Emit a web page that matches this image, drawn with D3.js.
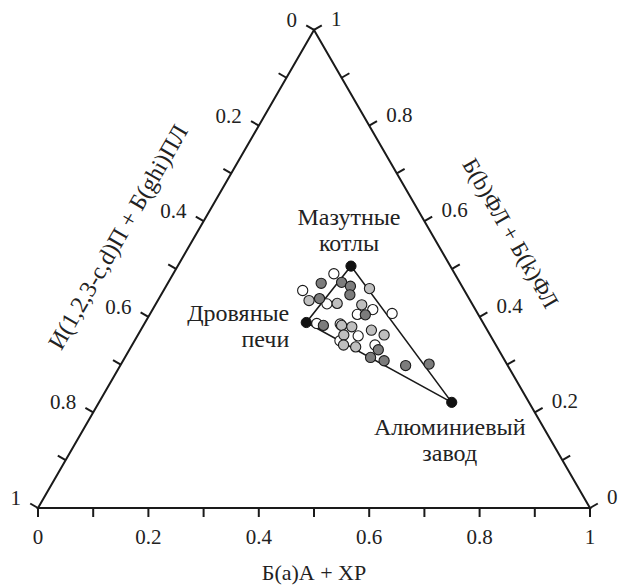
<!DOCTYPE html>
<html>
<head>
<meta charset="utf-8">
<script src="https://cdn.jsdelivr.net/npm/d3@7"></script>
<style>
  body { margin: 0; background: #fff; }
</style>
</head>
<body>
<div class="gv-chart-wrapper"></div>
<script>
// components: bottom = Б(a)А + ХР, right = Б(b)ФЛ + Б(k)ФЛ, left = 1 - bottom - right
const tickValues = [0, 0.1, 0.2, 0.3, 0.4, 0.5, 0.6, 0.7, 0.8, 0.9, 1]
const labelValues = [0, 0.2, 0.4, 0.6, 0.8, 1]
const tickLabels = ['0', '0.2', '0.4', '0.6', '0.8', '1']

const bottomTitle = 'Б(a)А + ХР'
const leftTitle = 'И(1,2,3-c,d)П + Б(ghi)ПЛ'
const rightTitle = 'Б(b)ФЛ + Б(k)ФЛ'

// sources (black)
const sourceNames = [['Мазутные', 'котлы'], ['Дровяные', 'печи'], ['Алюминиевый', 'завод']]
const sourceBottom = [0.314, 0.292, 0.639]
const sourceRight = [0.506, 0.388, 0.221]

// samples, white circles
const whiteBottom = [0.291, 0.252, 0.310, 0.376, 0.399, 0.438, 0.312, 0.355, 0.400, 0.372, 0.440]
const whiteRight = [0.490, 0.455, 0.427, 0.405, 0.415, 0.407, 0.386, 0.385, 0.360, 0.350, 0.341]

// light grey circles
const lightBottom = [0.371, 0.274, 0.328, 0.374, 0.359, 0.379, 0.418, 0.446, 0.373, 0.383, 0.407]
const lightRight = [0.459, 0.434, 0.428, 0.425, 0.382, 0.379, 0.372, 0.362, 0.362, 0.341, 0.337]

// dark grey circles
const darkBottom = [0.278, 0.314, 0.334, 0.342, 0.291, 0.391, 0.326, 0.451, 0.445, 0.473, 0.517, 0.558]
const darkRight = [0.470, 0.472, 0.464, 0.446, 0.438, 0.404, 0.382, 0.331, 0.315, 0.308, 0.298, 0.301]

const width = 619
const height = 585
const side = 552
const h = side * Math.sqrt(3) / 2

const x = d3.scaleLinear().domain([0, 1]).range([38, 38 + side])
const y = d3.scaleLinear().domain([0, Math.sqrt(3) / 2]).range([508, 508 - h])

// ternary -> screen
const px = (c, b) => x(c + b / 2)
const py = (c, b) => y(b * Math.sqrt(3) / 2)

const serif = sel => sel
  .style('font-family', "'Liberation Serif'")
  .style('fill', '#222')

const svg = d3.select('.gv-chart-wrapper')
  .append('svg')
  .attr('width', width)
  .attr('height', height)

const tickLen = 9

// frame
svg.append('path')
  .attr('d', 'M' + px(0, 0) + ',' + py(0, 0) + 'L' + px(1, 0) + ',' + py(1, 0) + 'L' + px(0, 1) + ',' + py(0, 1) + 'Z')
  .style('fill', 'none')
  .style('stroke', '#1a1a1a')
  .style('stroke-width', 2)

// bottom axis ticks (value = bottom component)
svg.append('g').selectAll('line')
  .data(tickValues)
  .enter()
  .append('line')
  .attr('x1', d => px(d, 0)).attr('y1', d => py(d, 0))
  .attr('x2', d => px(d, 0)).attr('y2', d => py(d, 0) + tickLen)
  .style('stroke', '#1a1a1a').style('stroke-width', 2)

// left axis ticks (value = left component, 0 at top, 1 at bottom-left)
svg.append('g').selectAll('line')
  .data(tickValues)
  .enter()
  .append('line')
  .attr('x1', d => px(0, 1 - d)).attr('y1', d => py(0, 1 - d))
  .attr('x2', d => px(0, 1 - d) - tickLen * 0.866).attr('y2', d => py(0, 1 - d) - tickLen * 0.5)
  .style('stroke', '#1a1a1a').style('stroke-width', 2)

// right axis ticks (value = right component, 1 at top, 0 at bottom-right)
svg.append('g').selectAll('line')
  .data(tickValues)
  .enter()
  .append('line')
  .attr('x1', d => px(1 - d, d)).attr('y1', d => py(1 - d, d))
  .attr('x2', d => px(1 - d, d) + tickLen * 0.866).attr('y2', d => py(1 - d, d) - tickLen * 0.5)
  .style('stroke', '#1a1a1a').style('stroke-width', 2)

svg.append('g').selectAll('text')
  .data(labelValues)
  .enter()
  .append('text')
  .attr('x', d => px(d, 0))
  .attr('y', d => py(d, 0) + 36)
  .attr('text-anchor', 'middle')
  .call(serif)
  .style('font-size', '21px')
  .text((d, i) => tickLabels[i])

svg.append('g').selectAll('text')
  .data(labelValues)
  .enter()
  .append('text')
  .attr('x', d => px(0, 1 - d) - 17)
  .attr('y', d => py(0, 1 - d) - 3)
  .attr('text-anchor', 'end')
  .call(serif)
  .style('font-size', '21px')
  .text((d, i) => tickLabels[i])

svg.append('g').selectAll('text')
  .data(labelValues)
  .enter()
  .append('text')
  .attr('x', d => px(1 - d, d) + 17)
  .attr('y', d => py(1 - d, d) - 4)
  .attr('text-anchor', 'start')
  .call(serif)
  .style('font-size', '21px')
  .text((d, i) => tickLabels[i])

// axis titles
svg.append('text')
  .attr('x', px(0.5, 0))
  .attr('y', 580)
  .attr('text-anchor', 'middle')
  .call(serif)
  .style('font-size', '22px')
  .text(bottomTitle)

svg.append('text')
  .attr('transform', 'translate(' + (px(0, 0.5) - 51) + ',' + (py(0, 0.5) - 28) + ') rotate(-60)')
  .attr('text-anchor', 'middle')
  .call(serif)
  .style('font-size', '24px')
  .text(leftTitle)

svg.append('text')
  .attr('transform', 'translate(' + (px(0.5, 0.5) + 52) + ',' + (py(0.5, 0.5) - 32) + ') rotate(60)')
  .attr('text-anchor', 'middle')
  .call(serif)
  .style('font-size', '23px')
  .text(rightTitle)

// source triangle
const src = sourceBottom.map((c, i) => ({ c: c, b: sourceRight[i], name: sourceNames[i] }))

svg.append('path')
  .data([src])
  .attr('d', d => d3.line().x(p => px(p.c, p.b)).y(p => py(p.c, p.b))(d) + 'Z')
  .style('fill', 'none')
  .style('stroke', '#1a1a1a')
  .style('stroke-width', 1.6)

const groups = [
  { c: whiteBottom, b: whiteRight, fill: '#ffffff' },
  { c: lightBottom, b: lightRight, fill: '#bfbfbf' },
  { c: darkBottom, b: darkRight, fill: '#7c7c7c' }
]

groups.forEach(g => {
  svg.append('g').selectAll('circle')
    .data(g.c.map((c, i) => ({ c: c, b: g.b[i] })))
    .enter()
    .append('circle')
    .attr('cx', d => px(d.c, d.b))
    .attr('cy', d => py(d.c, d.b))
    .attr('r', 5.1)
    .style('fill', g.fill)
    .style('stroke', '#1a1a1a')
    .style('stroke-width', 1.1)
})

svg.append('g').selectAll('circle')
  .data(src)
  .enter()
  .append('circle')
  .attr('cx', d => px(d.c, d.b))
  .attr('cy', d => py(d.c, d.b))
  .attr('r', 5.1)
  .style('fill', '#111')
  .style('stroke', '#111')

// source labels
const labelPos = [
  { dx: -2, dy: -41, anchor: 'middle' },
  { dx: -17, dy: -1.5, anchor: 'end' },
  { dx: -2, dy: 32.5, anchor: 'middle' }
]

src.forEach((s, i) => {
  const t = svg.append('text')
    .attr('x', px(s.c, s.b) + labelPos[i].dx)
    .attr('y', py(s.c, s.b) + labelPos[i].dy)
    .attr('text-anchor', labelPos[i].anchor)
    .call(serif)
    .style('font-size', '24px')
  s.name.forEach((line, j) => {
    t.append('tspan')
      .attr('x', px(s.c, s.b) + labelPos[i].dx)
      .attr('dy', j === 0 ? 0 : 26)
      .text(line)
  })
})
</script>
</body>
</html>
